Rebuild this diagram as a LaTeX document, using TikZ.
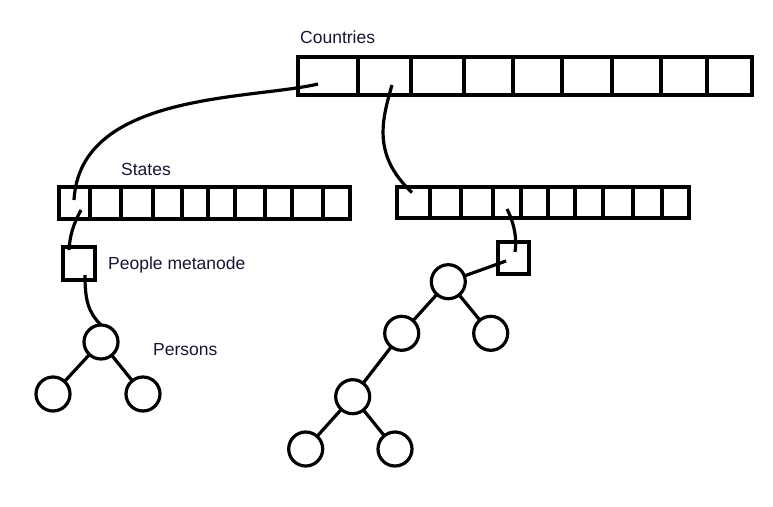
\documentclass[tikz,border=0pt]{standalone}
\usepackage{fontspec}
\setmainfont{Liberation Sans}
\usetikzlibrary{calc}
\definecolor{txt}{RGB}{22,22,52}
\begin{document}
\begin{tikzpicture}[x=1pt,y=-1pt,
  lw/.style={line width=3.2pt},
  cellbox/.style={draw, rectangle, inner sep=0pt, outer sep=0pt, lw},
  tnode/.style={draw, circle, minimum size=34pt, inner sep=0pt, outer sep=0pt, lw},
  conn/.style={draw, lw},
  lbl/.style={anchor=base west, inner sep=0pt, text=txt, font=\fontsize{17.5}{20}\selectfont}]
\useasboundingbox (0,0) rectangle (773,506);
% Countries array
\foreach \a/\b [count=\i] in {298/358,358/411,411/464,464/513,513/562,562/612,612/661,661/707,707/752}
  \node[cellbox, minimum width={(\b-\a)*1pt}, minimum height=38pt] (c\i) at ({(\a+\b)/2},76) {};
% States array (left)
\foreach \a/\b [count=\i] in {59/90,90/121,121/153,153/182,182/208,208/235,235/265,265/292,292/323,323/350}
  \node[cellbox, minimum width={(\b-\a)*1pt}, minimum height=32pt] (s\i) at ({(\a+\b)/2},203) {};
% States array (right)
\foreach \a/\b [count=\i] in {397/430,430/461,461/493,493/521,521/548,548/575,575/603,603/633,633/662,662/689}
  \node[cellbox, minimum width={(\b-\a)*1pt}, minimum height=31pt] (r\i) at ({(\a+\b)/2},202.5) {};
% metanode boxes
\node[cellbox, minimum width=32pt, minimum height=33pt] (p) at (79,263.5) {};
\node[cellbox, minimum width=31pt, minimum height=32pt] (q) at (513.5,258) {};
% labels
\node[lbl] (lc) at (300,43) {Countries};
\node[lbl] (ls) at (121,175) {States};
\node[lbl] (lp) at (108,269.5) {People metanode};
\node[lbl] (lpe) at (153,355) {Persons};
% left tree
\node[tnode] (a0) at (101,342) {};
\node[tnode] (a1) at (53,394) {};
\node[tnode] (a2) at (143,394) {};
% right tree
\node[tnode] (t0) at (448.3,281.7) {};
\node[tnode] (t1) at (401.7,333.3) {};
\node[tnode] (t2) at (490.7,333.3) {};
\node[tnode] (t3) at (352.7,396.7) {};
\node[tnode] (t4) at (305.7,449) {};
\node[tnode] (t5) at (395,449) {};
% tree edges
\draw[conn] (a0) -- (a1);
\draw[conn] (a0) -- (a2);
\draw[conn] (t0) -- (t1);
\draw[conn] (t0) -- (t2);
\draw[conn] (t1) -- (t3);
\draw[conn] (t3) -- (t4);
\draw[conn] (t3) -- (t5);
% curved connectors
\draw[conn] ([shift={(-10,8)}]c1.center) .. controls (250,100) and (80,92) .. ([shift={(-0.5,-3)}]s1.center);
\draw[conn] ([shift={(7.5,9)}]c2.center) .. controls (382,120) and (372,155) .. ([shift={(-1.5,-10)}]r1.center);
\draw[conn] ([shift={(6.5,7)}]s1.center) .. controls (73,225) and (70,235) .. ([shift={(-10,-13.5)}]p.center);
\draw[conn] ([shift={(6,11.5)}]p.center) .. controls (85,300) and (88,312) .. (a0.north);
\draw[conn] ([shift={(0,6.5)}]r4.center) .. controls (515,225) and (517,240) .. ([shift={(1.5,-6)}]q.center);
\draw[conn] ([shift={(-7.5,3)}]q.center) -- (t0);
\end{tikzpicture}
\end{document}
